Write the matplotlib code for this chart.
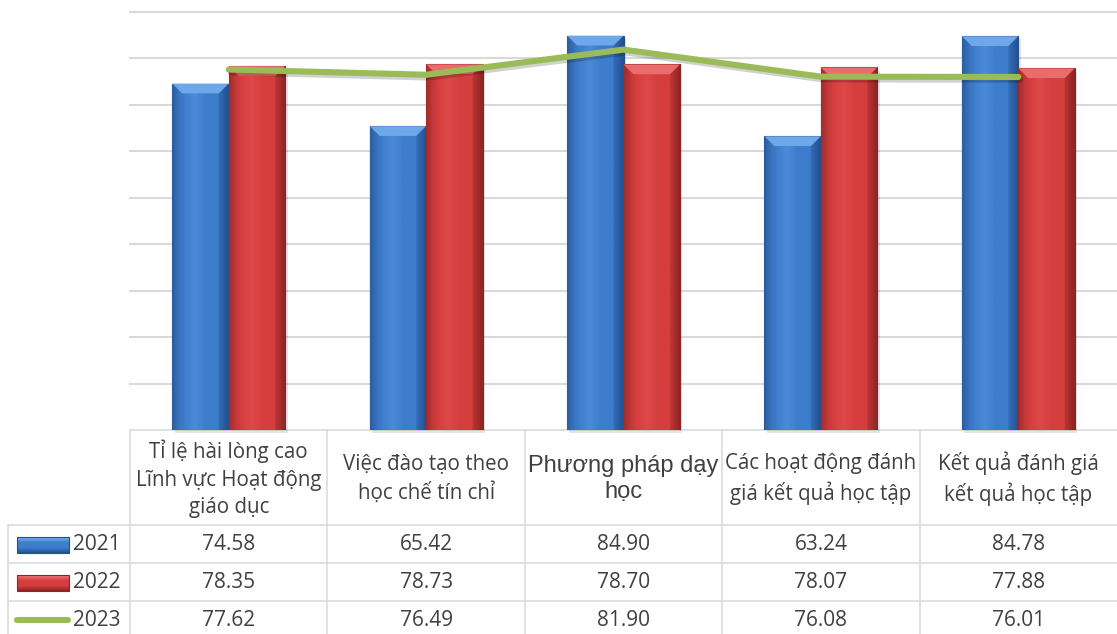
import numpy as np
import matplotlib
matplotlib.use('Agg')
import matplotlib.pyplot as plt
import matplotlib.patheffects as pe
from matplotlib.colors import LinearSegmentedColormap
from matplotlib.patches import Polygon, Rectangle

categories = ['Tỉ lệ hài lòng cao\nLĩnh vực Hoạt động\ngiáo dục',
              'Việc đào tạo theo\nhọc chế tín chỉ',
              'Phương pháp dạy\nhọc',
              'Các hoạt động đánh\ngiá kết quả học tập',
              'Kết quả đánh giá\nkết quả học tập']
years = ['2021', '2022', '2023']
v2021 = [74.58, 65.42, 84.90, 63.24, 84.78]
v2022 = [78.35, 78.73, 78.70, 78.07, 77.88]
v2023 = [77.62, 76.49, 81.90, 76.08, 76.01]

FONT = ['Open Sans', 'DejaVu Sans']
TXT = '#404040'
GRID = '#d9d9d9'

W, H = 1117, 634
left, right, top, base = 130, 1117, 12, 430
col_w = (right - left) / 5

fig = plt.figure(figsize=(W / 100, H / 100), dpi=100)

# overlay in pixel units for the data table
tab = fig.add_axes([0, 0, 1, 1])
tab.axis('off')

ax = fig.add_axes([left / W, (H - base) / H, (right - left) / W, (base - top) / H])
ax.patch.set_alpha(0)
for s in ax.spines.values():
    s.set_visible(False)
ax.set_xticks([])
ax.set_yticks([])
for g in range(10, 91, 10):
    ax.axhline(g, color=GRID, lw=1.5, zorder=1, clip_on=False)


def bevel_bar(xc, h, w, dark, mid, light, bevel):
    x0, x1 = xc - w / 2, xc + w / 2
    ax.add_patch(Rectangle((x0 + 0.012, -0.7), w, h, color='black', alpha=0.10,
                           lw=0, zorder=2, clip_on=False))
    rect = Rectangle((x0, 0), w, h, facecolor='none', edgecolor=dark, lw=0.8, zorder=4)
    ax.add_patch(rect)
    cmap = LinearSegmentedColormap.from_list('bar', [dark, mid, light, mid, mid, dark])
    im = ax.imshow(np.linspace(0, 1, 100)[None, :], cmap=cmap, extent=[x0, x1, 0, h],
                   aspect='auto', zorder=3, interpolation='bilinear')
    im.set_clip_path(rect)
    dx, dy = 0.05, 2.1
    ax.add_patch(Polygon([(x0, h), (x1, h), (x1 - dx, h - dy), (x0 + dx, h - dy)],
                         facecolor=bevel, lw=0, zorder=4))
    ax.add_patch(Polygon([(x0, h), (x0 + dx, h - dy), (x0 + dx, 0), (x0, 0)],
                         facecolor=light, alpha=0.25, lw=0, zorder=4))
    ax.add_patch(Polygon([(x1, h), (x1 - dx, h - dy), (x1 - dx, 0), (x1, 0)],
                         facecolor=dark, alpha=0.25, lw=0, zorder=4))


bw = 0.286
x = np.arange(len(categories))
for i in x:
    bevel_bar(i - bw / 2, v2021[i], bw, '#23508f', '#3d7dcc', '#4a8ad8', '#6ea8e8')
    bevel_bar(i + bw / 2, v2022[i], bw, '#8e2424', '#d63e3e', '#de4848', '#ea6c6c')

ax.plot(x, v2023, color='#9bbb59', lw=4.4, solid_capstyle='round', zorder=6,
        path_effects=[pe.SimpleLineShadow(offset=(1.5, -2), alpha=0.18), pe.Normal()])
ax.set_xlim(-0.5, 4.5)
ax.set_ylim(0, 90)

# table grid
rows_y = [525, 563, 601]
lk = dict(color=GRID, lw=1.1)
tab.plot([left, right], [base, base], **lk)
for y in rows_y:
    tab.plot([8, W], [y, y], **lk)
tab.plot([8, 8], [525, H], **lk)
for k in range(5):
    xx = left + k * col_w
    tab.plot([xx, xx], [base, H], **lk)

# column headers
for i, c in enumerate(categories):
    cx = left + (i + 0.5) * col_w
    if i == 2:
        tab.text(cx, 479, c, ha='center', va='center', fontsize=17, color=TXT,
                 family=['Liberation Sans', 'DejaVu Sans'], linespacing=1.25)
    else:
        tab.text(cx, 479, c, ha='center', va='center', fontsize=14.8, color=TXT,
                 family=FONT, linespacing=1.4)

# values per row
row_mid = [545, 583, 620]
for vals, ym in zip([v2021, v2022, v2023], row_mid):
    for i, v in enumerate(vals):
        cx = left + (i + 0.5) * col_w
        tab.text(cx, ym, f'{v:.2f}', ha='center', va='center', fontsize=15,
                 color=TXT, family=FONT)

# legend keys
def key_rect(ym, dark, mid, light):
    x0, x1, y0, y1 = 17, 69, ym - 8, ym + 8
    r = Rectangle((x0, y0), x1 - x0, y1 - y0, facecolor='none', edgecolor=dark, lw=0.8, zorder=4)
    tab.add_patch(r)
    cmap = LinearSegmentedColormap.from_list('key', [light, mid, mid, dark])
    im = tab.imshow(np.linspace(0, 1, 50)[:, None], cmap=cmap, extent=[x0, x1, y1, y0],
                    aspect='auto', zorder=3, interpolation='bilinear')
    im.set_clip_path(r)


key_rect(row_mid[0], '#23508f', '#3d7dcc', '#7eb5ee')
key_rect(row_mid[1], '#8e2424', '#d63e3e', '#f07a7a')
tab.plot([17, 68], [row_mid[2], row_mid[2]], color='#9bbb59', lw=4.4, solid_capstyle='round')
for yr, ym in zip(years, row_mid):
    tab.text(73, ym, yr, ha='left', va='center', fontsize=15, color=TXT, family=FONT)

tab.set_xlim(0, W)
tab.set_ylim(H, 0)

fig.savefig('out.png', dpi=100)
